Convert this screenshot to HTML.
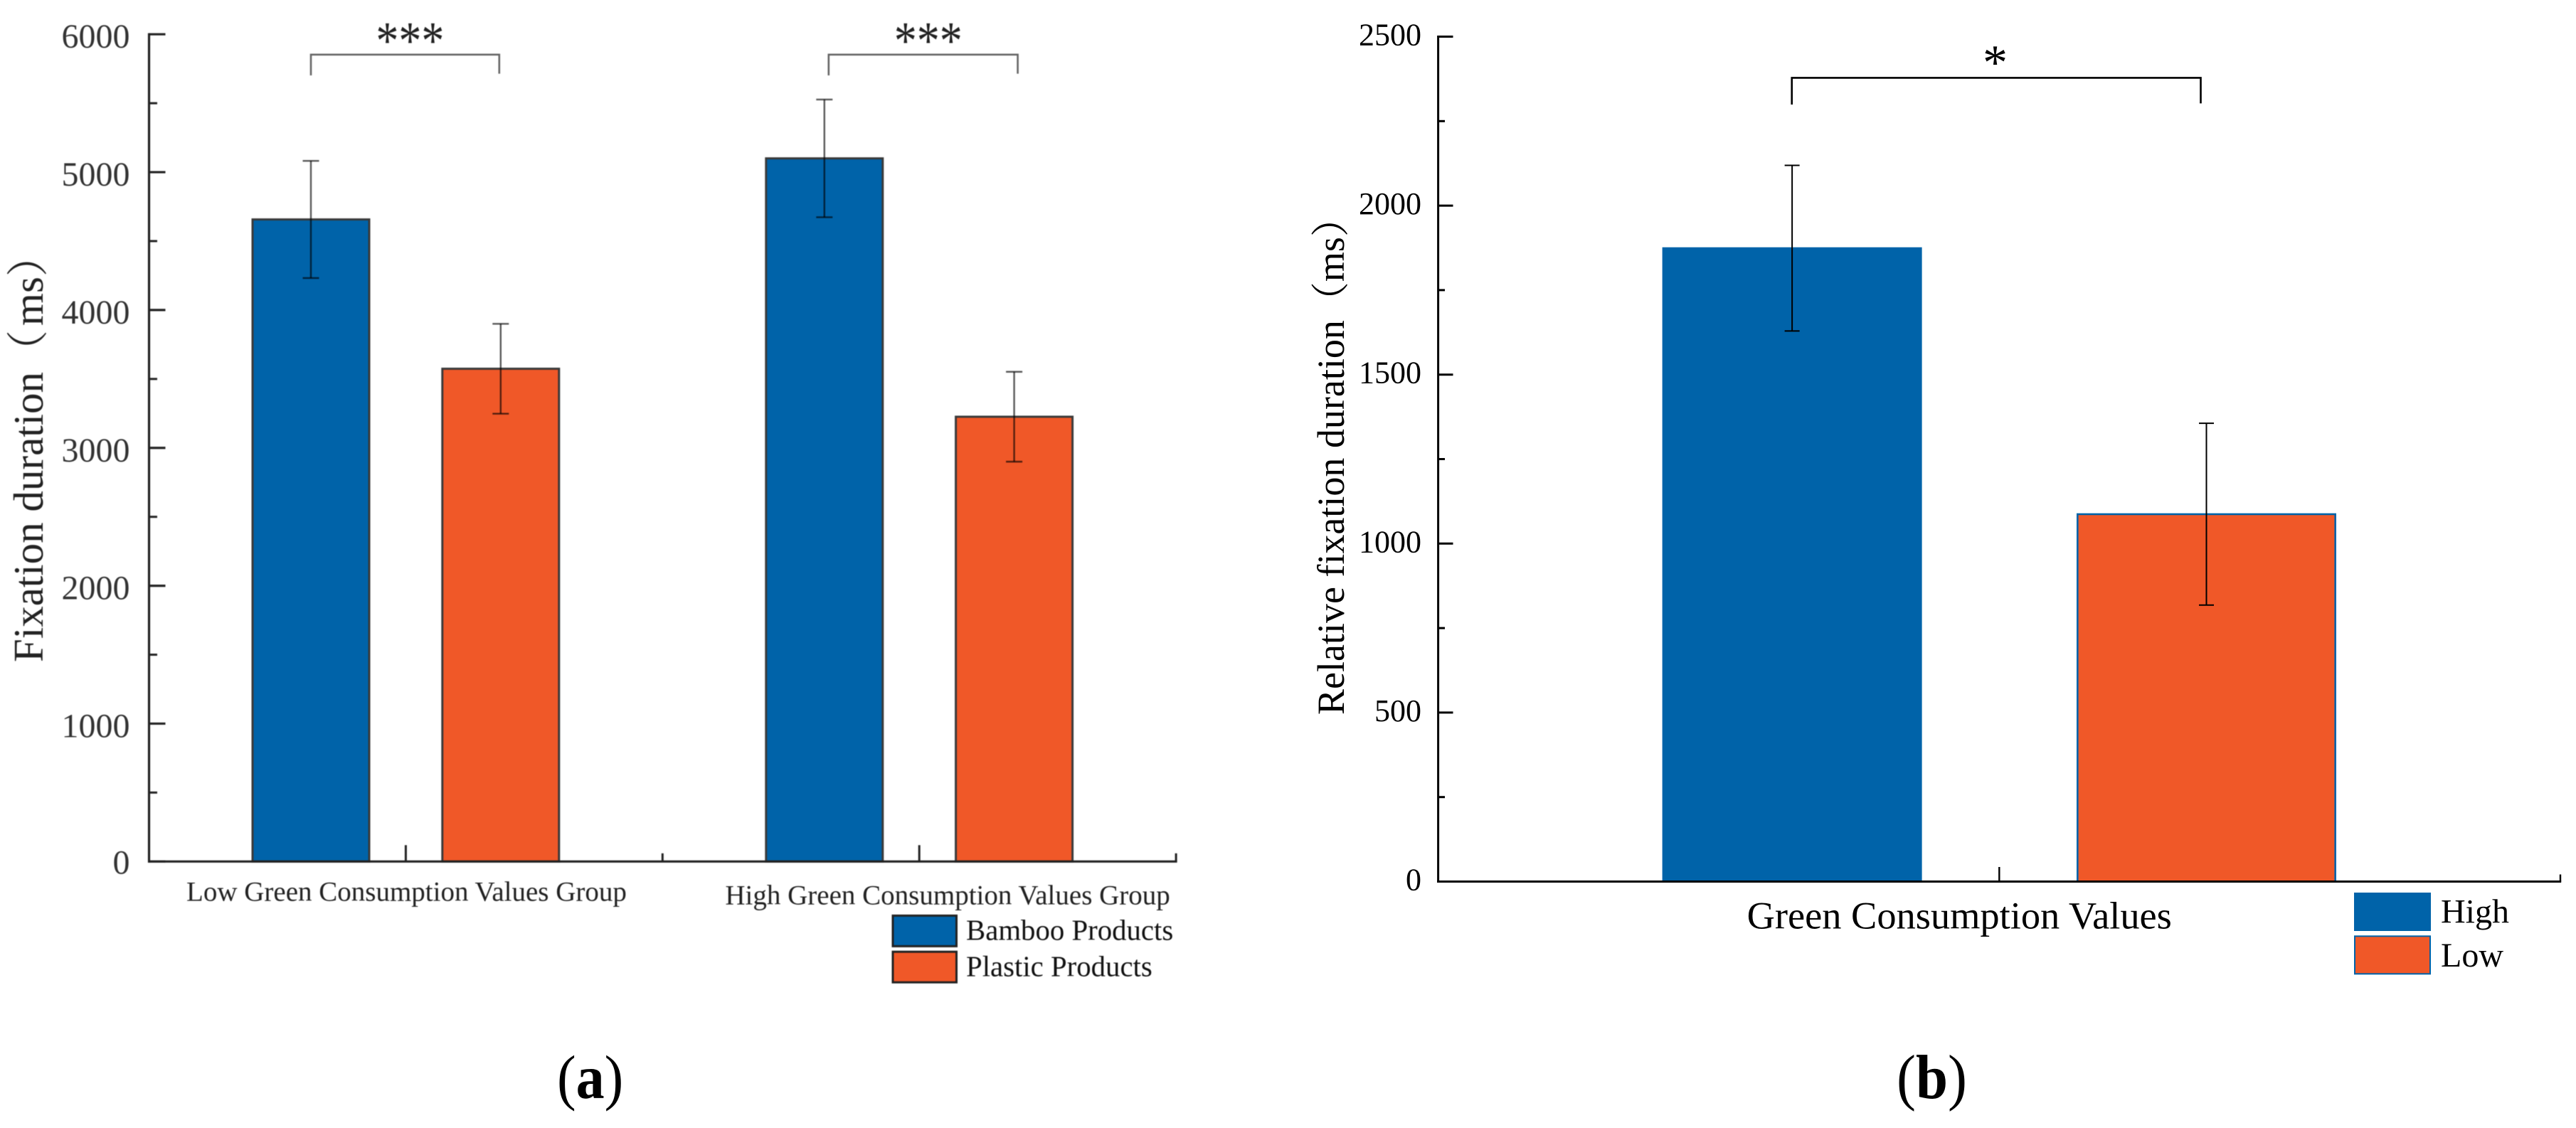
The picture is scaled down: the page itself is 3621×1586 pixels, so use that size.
<!DOCTYPE html>
<html lang="en">
<head>
<meta charset="utf-8">
<title>Fixation duration bar charts</title>
<style>
html,body{margin:0;padding:0;background:#fff;}
svg{display:block;}
text{font-family:"Liberation Serif","Noto Serif CJK SC",serif;}
</style>
</head>
<body>
<svg id="figure" xmlns="http://www.w3.org/2000/svg" width="3621" height="1586" viewBox="0 0 3621 1586">
  <rect x="0" y="0" width="3621" height="1586" fill="#ffffff"/>
  <g id="panel-a" style="filter:blur(0.6px)">
    <text transform="translate(60 931) rotate(-90)" font-size="59" fill="#222">Fixation duration（<tspan dx="6">ms</tspan>）</text>
  </g>
  <g id="panel-b">
    <text transform="translate(1889 1005) rotate(-90)" font-size="54" fill="#000">Relative fixation duration（ms）</text>
    <text x="2455.6" y="1305.5" font-size="54.4" fill="#000">Green Consumption Values</text>
  </g>
  <text transform="translate(783 1544) scale(1 1.08)" font-size="80" fill="#000">(<tspan font-weight="bold">a</tspan>)</text>
  <text transform="translate(2666 1544) scale(1 1.08)" font-size="81" fill="#000">(<tspan font-weight="bold">b</tspan>)</text>
</svg>
<script>
// Panel (a) data
const groupsA = ['Low Green Consumption Values Group', 'High Green Consumption Values Group'];
const bambooMeans = [4657, 5100];
const plasticMeans = [3574, 3226];
const bambooErrors = [425, 427];
const plasticErrors = [326, 326];
const significanceA = ['***', '***'];
const seriesNamesA = ['Bamboo Products', 'Plastic Products'];
const yTicksA = [0, 1000, 2000, 3000, 4000, 5000, 6000];
const yMinorTicksA = [500, 1500, 2500, 3500, 4500, 5500];

// Panel (b) data
const categoriesB = ['High', 'Low'];
const meansB = [1874, 1087];
const errorsB = [245, 269];
const significanceB = ['*'];
const yTicksB = [0, 500, 1000, 1500, 2000, 2500];
const yMinorTicksB = [250, 750, 1250, 1750, 2250];

const SVGNS = 'http://www.w3.org/2000/svg';
const BLUE = '#0063a9';
const ORANGE = '#f05828';

function mk(parent, tag, attrs, content) {
  const el = document.createElementNS(SVGNS, tag);
  for (const k in attrs) el.setAttribute(k, attrs[k]);
  if (content !== undefined) el.textContent = content;
  parent.appendChild(el);
  return el;
}

// Axis functions
const yA = v => 1211.3 - v * 0.19385;
const xA = v => 209.5 + (v - 0.5) * 721.8;
const yB = v => 1239.5 - v * 0.4752;
const xB = v => 2021.6 + (v - 0.5) * 1577.4;

const panelA = document.getElementById('panel-a');
const panelB = document.getElementById('panel-b');

function errorBar(parent, cx, mean, err, yScale, capHalf, color, opacity, width, name) {
  const g = mk(parent, 'g', { stroke: color, 'stroke-opacity': opacity, 'stroke-width': width, fill: 'none' });
  
  
  const top = yScale(mean + err);
  const bottom = yScale(mean - err);
  mk(g, 'line', { x1: cx, x2: cx, y1: top, y2: bottom });
  mk(g, 'line', { x1: cx - capHalf, x2: cx + capHalf, y1: top, y2: top });
  mk(g, 'line', { x1: cx - capHalf, x2: cx + capHalf, y1: bottom, y2: bottom });
}

/* ---------- Panel (a) ---------- */
const BAR_OFFSET_A = 0.1848;
const BAR_HALF_A = 82;

groupsA.forEach((label, i) => {
  const center = i + 1;
  const x1 = xA(center - BAR_OFFSET_A);
  const x2 = xA(center + BAR_OFFSET_A);

  const bar1 = mk(panelA, 'rect', {
    x: x1 - BAR_HALF_A, y: yA(bambooMeans[i]), width: BAR_HALF_A * 2,
    height: yA(0) - yA(bambooMeans[i]), fill: BLUE, stroke: '#3a3a3a', 'stroke-width': 3
  });
  
  

  const bar2 = mk(panelA, 'rect', {
    x: x2 - BAR_HALF_A, y: yA(plasticMeans[i]), width: BAR_HALF_A * 2,
    height: yA(0) - yA(plasticMeans[i]), fill: ORANGE, stroke: '#3a3a3a', 'stroke-width': 3
  });
  
  

  errorBar(panelA, x1, bambooMeans[i], bambooErrors[i], yA, 11.5, '#000', 0.65, 2.4, 'error-bar-bamboo-group-' + (i + 1));
  errorBar(panelA, x2, plasticMeans[i], plasticErrors[i], yA, 11.5, '#000', 0.65, 2.4, 'error-bar-plastic-group-' + (i + 1));

  // significance bracket
  const bx1 = x1 + (i === 0 ? 0 : 6);
  const bx2 = x2 + (i === 0 ? -2 : 5);
  const bracket = mk(panelA, 'path', {
    d: 'M' + bx1 + ' 106V76.8H' + bx2 + 'V103.6',
    fill: 'none', stroke: '#666', 'stroke-width': 2.6
  });
  
  

  const stars = mk(panelA, 'text', {
    transform: 'translate(' + ((bx1 + bx2) / 2 + 7) + ' 82) scale(1 1.18)',
    'font-size': 64, 'text-anchor': 'middle', fill: '#222'
  }, significanceA[i]);
  
  

  // x tick + category label
  const tick = mk(panelA, 'line', {
    x1: xA(center), x2: xA(center), y1: yA(0), y2: yA(0) - 23, stroke: '#222', 'stroke-width': 3
  });
  
  

  const catLabel = mk(panelA, 'text', {
    x: i === 0 ? 262 : 1019.4, y: i === 0 ? 1266.7 : 1271.7, 'font-size': 39, fill: '#222'
  }, label);
  
  
});

[1.5, 2.5].forEach(v => {
  const minor = mk(panelA, 'line', {
    x1: xA(v), x2: xA(v), y1: yA(0), y2: yA(0) - 11.5, stroke: '#222', 'stroke-width': 3
  });
  
  
});

yTicksA.forEach(v => {
  const t = mk(panelA, 'line', {
    x1: 209.5, x2: 232.5, y1: yA(v), y2: yA(v), stroke: '#222', 'stroke-width': 3.2
  });
  
  
  const lbl = mk(panelA, 'text', {
    x: 182.5, y: yA(v) + (v === 0 ? 17 : 19), 'font-size': 48, 'text-anchor': 'end', fill: '#333'
  }, String(v));
  
  
});

yMinorTicksA.forEach(v => {
  const t = mk(panelA, 'line', {
    x1: 209.5, x2: 221, y1: yA(v), y2: yA(v), stroke: '#222', 'stroke-width': 3
  });
  
  
});

const yAxisA = mk(panelA, 'line', { x1: 209.5, x2: 209.5, y1: yA(6000) - 1.6, y2: yA(0) + 1.6, stroke: '#222', 'stroke-width': 3.2 });


const xAxisA = mk(panelA, 'line', { x1: 208, x2: xA(2.5) + 1.5, y1: yA(0), y2: yA(0), stroke: '#222', 'stroke-width': 3.2 });



seriesNamesA.forEach((name, i) => {
  const sw = mk(panelA, 'rect', {
    x: 1255, y: i === 0 ? 1287.4 : 1338.2, width: 89.5, height: 43,
    fill: i === 0 ? BLUE : ORANGE, stroke: '#222', 'stroke-width': 3
  });
  
  
  const tx = mk(panelA, 'text', {
    x: 1358, y: i === 0 ? 1321.5 : 1372.3, 'font-size': 40.8, fill: '#111'
  }, name);
  
  
});

/* ---------- Panel (b) ---------- */
const BAR_OFFSET_B = 0.1846;
const BAR_HALF_B = 181.2;

categoriesB.forEach((name, i) => {
  const cx = xB(1 + (i === 0 ? -BAR_OFFSET_B : BAR_OFFSET_B));
  const bar = mk(panelB, 'rect', {
    x: cx - BAR_HALF_B, y: yB(meansB[i]), width: BAR_HALF_B * 2,
    height: yB(0) - yB(meansB[i]), fill: i === 0 ? BLUE : ORANGE, stroke: BLUE, 'stroke-width': 2.6
  });
  
  
  errorBar(panelB, cx, meansB[i], errorsB[i], yB, 10.5, '#000', 1, 2, 'error-bar-' + name.toLowerCase());

  const sw = mk(panelB, 'rect', {
    x: 3310, y: i === 0 ? 1256 : 1316.3, width: 106, height: i === 0 ? 52 : 53,
    fill: i === 0 ? BLUE : ORANGE, stroke: BLUE, 'stroke-width': 2
  });
  
  
  const tx = mk(panelB, 'text', {
    x: 3431, y: i === 0 ? 1297.7 : 1359, 'font-size': 48, fill: '#000'
  }, name);
  
  
});

const bracketB = mk(panelB, 'path', {
  d: 'M2518.7 147V109.4H3093.5V145.4', fill: 'none', stroke: '#000', 'stroke-width': 2.6
});


const starB = mk(panelB, 'text', {
  x: 2804.5, y: 111, 'font-size': 70, 'text-anchor': 'middle', fill: '#000'
}, significanceB[0]);



yTicksB.forEach(v => {
  const t = mk(panelB, 'line', {
    x1: 2021.6, x2: 2042.5, y1: yB(v), y2: yB(v), stroke: '#000', 'stroke-width': 3
  });
  
  
  const lbl = mk(panelB, 'text', {
    x: 1998, y: yB(v) + 12, 'font-size': 44, 'text-anchor': 'end', fill: '#000'
  }, String(v));
  
  
});

yMinorTicksB.forEach(v => {
  const t = mk(panelB, 'line', {
    x1: 2021.6, x2: 2031, y1: yB(v), y2: yB(v), stroke: '#000', 'stroke-width': 3
  });
  
  
});

const majorB = mk(panelB, 'line', { x1: xB(1), x2: xB(1), y1: yB(0), y2: yB(0) - 20.5, stroke: '#000', 'stroke-width': 2.4 });


const minorB = mk(panelB, 'line', { x1: xB(1.5), x2: xB(1.5), y1: yB(0), y2: yB(0) - 10, stroke: '#000', 'stroke-width': 2.4 });



const yAxisB = mk(panelB, 'line', { x1: 2021.6, x2: 2021.6, y1: yB(2500) - 1.5, y2: yB(0) + 1.5, stroke: '#000', 'stroke-width': 3 });


const xAxisB = mk(panelB, 'line', { x1: 2020, x2: xB(1.5) + 1.2, y1: yB(0), y2: yB(0), stroke: '#000', 'stroke-width': 3 });


</script>
</body>
</html>
